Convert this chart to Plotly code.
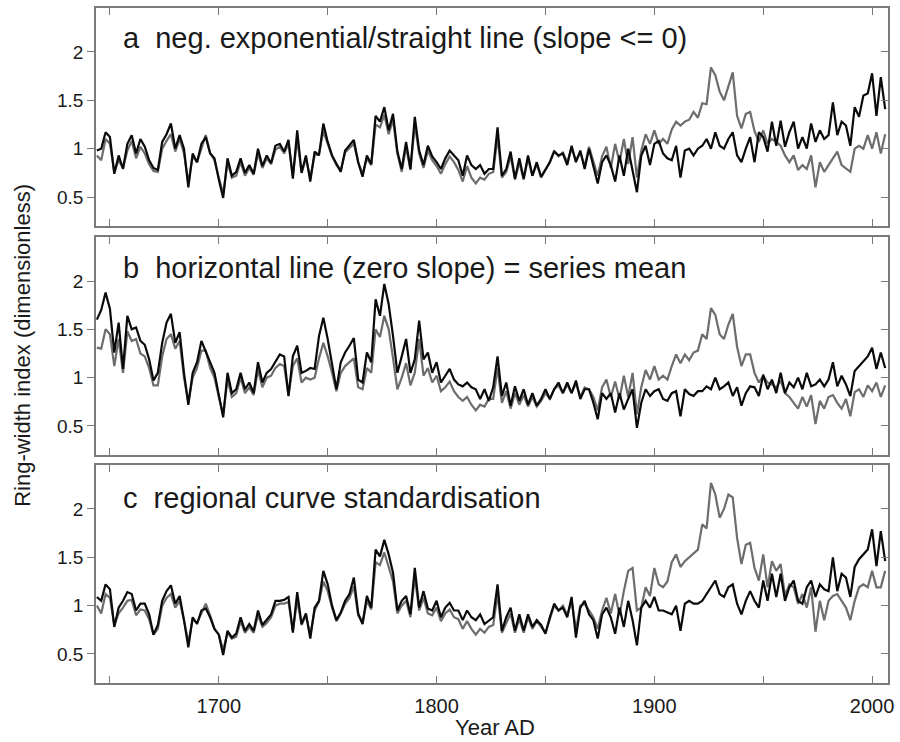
import plotly.graph_objects as go

# ---------------- data (2-year resolution) ----------------
YEARS = list(range(1644, 2007, 2))

# panel a: neg. exponential / straight line
A_BLACK = [0.98, 1.00, 1.17,
           1.12, 0.74, 0.93, 0.79, 1.05,
           1.14, 0.95, 1.10, 1.02, 0.88,
           0.80, 0.78, 1.07, 1.15, 1.26,
           1.00, 1.14, 1.00, 0.60, 0.95,
           0.86, 1.05, 1.12, 0.95, 0.90,
           0.68, 0.49, 0.90, 0.72, 0.76,
           0.90, 0.75, 0.83, 0.74, 1.00,
           0.82, 0.93, 0.85, 1.03, 1.05,
           0.97, 1.09, 0.69, 1.19, 0.75,
           0.93, 0.66, 0.97, 0.93, 1.26,
           1.07, 0.93, 0.85, 0.76, 0.98,
           1.03, 1.09, 0.86, 0.71, 0.93,
           0.84, 1.34, 1.28, 1.43, 1.19,
           1.36, 0.97, 0.79, 1.07, 0.79,
           1.33, 0.98, 0.83, 1.03, 0.92,
           0.86, 0.79, 0.90, 0.98, 0.93,
           0.88, 0.72, 0.93, 0.83, 0.79,
           0.83, 0.74, 0.79, 0.79, 1.22,
           0.72, 0.79, 0.97, 0.69, 0.90,
           0.69, 0.93, 0.72, 0.86, 0.71,
           0.78, 0.86, 0.97, 0.93, 0.95,
           0.83, 1.03, 0.86, 0.98, 0.79,
           1.00, 0.83, 0.64, 0.86, 0.93,
           0.83, 0.66, 0.93, 0.72, 1.00,
           0.78, 0.55, 0.93, 1.03, 0.83,
           1.05, 1.08, 0.95, 0.90, 0.88,
           1.03, 0.70, 0.98, 1.00, 0.93,
           1.00, 1.03, 1.10, 1.00, 1.17,
           1.03, 1.00, 1.10, 1.17, 0.93,
           0.86, 1.00, 1.12, 0.86, 1.17,
           1.12, 0.97, 1.28, 1.03, 1.29,
           1.02, 1.17, 1.28, 1.00, 1.12,
           1.00, 1.26, 1.07, 1.19, 1.10,
           1.14, 1.48, 1.14, 1.28, 1.24,
           1.03, 1.43, 1.33, 1.55, 1.57,
           1.78, 1.34, 1.74, 1.41]
A_GREY = [0.93, 0.88, 1.10,
          1.05, 0.76, 0.88, 0.80, 0.98,
          1.08, 0.90, 1.02, 0.95, 0.84,
          0.77, 0.76, 1.00, 1.08, 1.15,
          0.97, 1.10, 0.95, 0.65, 0.92,
          0.86, 1.00, 1.14, 0.96, 0.88,
          0.70, 0.53, 0.86, 0.70, 0.72,
          0.86, 0.72, 0.80, 0.73, 0.95,
          0.80, 0.90, 0.84, 0.99, 1.02,
          0.95, 1.05, 0.72, 1.10, 0.75,
          0.90, 0.70, 0.93, 0.95, 1.18,
          1.05, 0.92, 0.83, 0.78, 0.96,
          1.00, 1.05, 0.86, 0.74, 0.90,
          0.83, 1.25, 1.22, 1.35, 1.15,
          1.30, 0.95, 0.76, 1.02, 0.78,
          1.25, 0.95, 0.80, 0.98, 0.88,
          0.82, 0.74, 0.84, 0.92, 0.86,
          0.78, 0.66, 0.82, 0.70, 0.64,
          0.70, 0.68, 0.74, 0.76, 1.12,
          0.70, 0.76, 0.92, 0.68, 0.86,
          0.68, 0.90, 0.72, 0.84, 0.70,
          0.78, 0.86, 0.98, 0.92, 0.96,
          0.86, 1.00, 0.88, 0.96, 0.82,
          1.02, 0.86, 0.72, 0.92, 1.02,
          0.80, 1.05, 0.86, 1.10, 0.84,
          1.12, 0.70, 0.98, 1.15, 1.05,
          1.19, 1.05, 1.10, 1.05, 1.20,
          1.28, 1.24, 1.28, 1.30, 1.38,
          1.32, 1.47, 1.46, 1.84, 1.76,
          1.59, 1.50, 1.65, 1.79, 1.34,
          1.21, 1.36, 1.38, 1.18, 1.07,
          1.19, 1.05, 1.10, 1.07, 1.03,
          0.93, 0.86, 0.93, 0.78, 0.83,
          0.79, 0.93, 0.60, 0.86, 0.76,
          0.83, 0.90, 0.97, 0.83, 0.79,
          0.76, 1.00, 1.03, 1.00, 1.14,
          1.00, 1.17, 0.95, 1.15]

# panel b: horizontal line (series mean)
B_BLACK = [1.60, 1.70, 1.88,
           1.71, 1.26, 1.57, 1.09, 1.64,
           1.50, 1.52, 1.38, 1.34, 1.19,
           0.97, 1.05, 1.36, 1.57, 1.66,
           1.36, 1.47, 1.05, 0.72, 1.05,
           1.16, 1.38, 1.26, 1.16, 1.05,
           0.81, 0.59, 1.05, 0.84, 0.88,
           1.05, 0.88, 0.95, 0.84, 1.16,
           0.95, 1.05, 1.09, 1.16, 1.24,
           1.22, 0.81, 1.22, 1.33, 1.05,
           1.07, 1.10, 1.09, 1.43, 1.62,
           1.40, 1.12, 0.88, 1.16, 1.26,
           1.33, 1.41, 0.98, 0.95, 1.26,
           1.16, 1.81, 1.64, 1.97, 1.76,
           1.43, 1.05, 1.22, 1.40, 1.05,
           1.19, 1.59, 1.19, 1.26, 1.05,
           1.16, 0.95, 1.02, 1.09, 0.98,
           0.93, 0.91, 0.95, 0.90, 0.88,
           0.78, 0.88, 0.76, 0.90, 1.22,
           0.81, 0.95, 0.71, 0.91, 0.76,
           0.88, 0.72, 0.84, 0.71, 0.78,
           0.88, 0.78, 0.88, 0.95, 0.84,
           0.95, 0.84, 0.97, 0.78, 0.88,
           0.88, 0.74, 0.57, 0.84, 0.78,
           0.84, 0.64, 0.84, 0.67, 0.78,
           0.88, 0.48, 0.74, 0.88, 0.81,
           0.86, 0.88, 0.78, 0.76, 0.84,
           0.86, 0.60, 0.88, 0.83, 0.81,
           0.86, 0.86, 0.91, 0.88, 1.00,
           0.88, 0.91, 0.95, 0.81, 0.90,
           0.71, 0.84, 0.91, 0.90, 0.81,
           1.03, 0.88, 0.98, 0.84, 1.05,
           0.84, 0.95, 0.90, 1.00, 0.88,
           1.05, 0.91, 0.93, 0.98, 0.91,
           0.98, 1.16, 0.91, 1.02, 0.93,
           0.81, 1.07, 1.12, 1.16, 1.22,
           1.31, 1.09, 1.26, 1.10]
B_GREY = [1.31, 1.30, 1.50,
          1.45, 1.12, 1.40, 1.05, 1.48,
          1.38, 1.40, 1.25, 1.22, 1.10,
          0.92, 0.92, 1.22, 1.40, 1.45,
          1.30, 1.38, 1.00, 0.75, 1.00,
          1.10, 1.28, 1.28, 1.10, 1.00,
          0.80, 0.62, 0.98, 0.80, 0.84,
          1.00, 0.84, 0.90, 0.82, 1.08,
          0.90, 1.00, 1.02, 1.10, 1.14,
          1.12, 0.82, 1.12, 1.20, 0.95,
          1.00, 0.98, 1.00, 1.20, 1.36,
          1.22, 1.05, 0.86, 1.05, 1.12,
          1.16, 1.20, 0.90, 0.88, 1.10,
          1.05, 1.50, 1.42, 1.64, 1.50,
          1.20, 0.88, 1.00, 1.15, 0.92,
          1.05, 1.40, 1.02, 1.10, 0.95,
          1.02, 0.86, 0.90, 0.96, 0.86,
          0.80, 0.76, 0.80, 0.72, 0.66,
          0.72, 0.70, 0.78, 0.78, 1.10,
          0.74, 0.86, 0.68, 0.84, 0.72,
          0.82, 0.70, 0.80, 0.70, 0.76,
          0.84, 0.78, 0.88, 0.92, 0.84,
          0.93, 0.84, 0.94, 0.80, 0.90,
          0.88, 0.80, 0.66, 0.90, 0.98,
          0.80, 0.96, 0.78, 1.02, 0.80,
          1.05, 0.62, 0.90, 1.08, 0.98,
          1.12, 0.98, 1.02, 0.98, 1.12,
          1.24, 1.15, 1.24, 1.18, 1.26,
          1.28, 1.45, 1.40, 1.72, 1.65,
          1.45, 1.40, 1.55, 1.66, 1.32,
          1.12, 1.24, 1.24, 1.05, 0.95,
          1.02, 0.95, 0.93, 0.90, 0.97,
          0.84, 0.80, 0.74, 0.68, 0.80,
          0.70, 0.82, 0.52, 0.76, 0.68,
          0.80, 0.82, 0.74, 0.68, 0.78,
          0.60, 0.85, 0.88, 0.80, 0.92,
          0.86, 0.95, 0.80, 0.92]

# panel c: regional curve standardisation
C_BLACK = [1.09, 1.05, 1.22,
           1.17, 0.78, 0.98, 1.05, 1.14,
           1.12, 0.95, 1.02, 1.02, 0.91,
           0.70, 0.80, 1.05, 1.15, 1.21,
           1.02, 1.10, 0.85, 0.57, 0.88,
           0.81, 0.95, 0.97, 0.88, 0.76,
           0.70, 0.49, 0.74, 0.67, 0.71,
           0.88, 0.74, 0.81, 0.74, 0.95,
           0.80, 0.85, 0.91, 1.05, 1.05,
           1.06, 1.09, 0.72, 1.14, 0.81,
           0.92, 0.66, 0.98, 1.05, 1.36,
           1.22, 1.00, 0.85, 0.93, 1.05,
           1.12, 1.29, 0.92, 0.81, 1.10,
           0.98, 1.58, 1.51, 1.68, 1.53,
           1.34, 0.95, 1.05, 1.10, 0.91,
           1.39, 0.98, 1.15, 0.97, 0.95,
           1.05, 0.88, 0.98, 1.03, 0.95,
           0.95, 0.85, 0.95, 0.88, 0.85,
           0.91, 0.81, 0.85, 0.88, 1.22,
           0.74, 0.88, 0.98, 0.74, 0.91,
           0.74, 0.91, 0.78, 0.85, 0.80,
           0.71, 0.88, 1.02, 0.95, 0.98,
           0.88, 1.09, 0.67, 0.98, 1.05,
           0.91, 0.85, 0.66, 0.91, 0.98,
           0.88, 0.71, 0.98, 0.78, 1.05,
           0.85, 0.59, 0.98, 1.05, 0.98,
           1.09, 0.95, 0.95, 0.93, 0.91,
           1.00, 0.74, 1.02, 1.05, 1.02,
           1.02, 1.05, 1.12, 1.20, 1.26,
           1.12, 1.09, 1.19, 1.22, 1.02,
           0.91, 1.05, 1.15, 1.05, 0.98,
           1.26, 1.05, 1.33, 1.09, 1.33,
           1.05, 1.19, 1.26, 1.05, 1.02,
           1.19, 1.26, 1.09, 1.22, 1.17,
           1.15, 1.50, 1.15, 1.33, 1.29,
           1.09, 1.40, 1.48, 1.53, 1.58,
           1.79, 1.41, 1.77, 1.46]
C_GREY = [1.00, 0.92, 1.12,
          1.08, 0.80, 0.92, 0.98, 1.05,
          1.06, 0.90, 0.96, 0.95, 0.86,
          0.70, 0.76, 1.00, 1.08, 1.12,
          0.98, 1.05, 0.85, 0.62, 0.86,
          0.82, 0.92, 1.02, 0.90, 0.76,
          0.70, 0.54, 0.72, 0.66, 0.68,
          0.84, 0.72, 0.78, 0.72, 0.90,
          0.78, 0.82, 0.88, 1.00, 1.02,
          1.02, 1.04, 0.74, 1.06, 0.80,
          0.90, 0.70, 0.95, 1.04, 1.25,
          1.15, 0.98, 0.84, 0.92, 1.02,
          1.08, 1.20, 0.90, 0.82, 1.05,
          0.96, 1.45, 1.42, 1.55, 1.40,
          1.25, 0.92, 1.00, 1.05, 0.88,
          1.30, 0.95, 1.08, 0.92, 0.90,
          0.98, 0.84, 0.92, 0.96, 0.88,
          0.86, 0.76, 0.84, 0.76, 0.70,
          0.76, 0.72, 0.78, 0.80, 1.12,
          0.72, 0.82, 0.92, 0.72, 0.86,
          0.72, 0.88, 0.76, 0.84, 0.78,
          0.72, 0.86, 1.00, 0.95, 1.00,
          0.90, 1.05, 0.75, 1.00, 1.02,
          0.95, 0.88, 0.76, 0.95, 1.08,
          0.92, 1.12, 0.90, 1.15, 1.36,
          1.39, 0.95, 0.98, 1.19, 1.10,
          1.39, 1.22, 1.19, 1.25, 1.45,
          1.53, 1.40, 1.46, 1.50, 1.53,
          1.58, 1.84, 1.80, 2.27, 2.15,
          1.91, 2.00, 2.15, 2.12, 1.70,
          1.43, 1.63, 1.65, 1.39, 1.26,
          1.53, 1.19, 1.46, 1.36, 1.43,
          1.10, 1.22, 1.19, 1.02, 1.12,
          0.98, 1.19, 0.73, 1.05, 0.85,
          1.05, 1.10, 1.12, 1.05, 0.98,
          0.85, 1.05, 1.19, 1.22, 1.19,
          1.36, 1.19, 1.19, 1.36]

PANEL_LABELS = ["a\u00a0\u00a0neg. exponential/straight line (slope &lt;= 0)",
                "b\u00a0\u00a0horizontal line (zero slope) = series mean",
                "c\u00a0\u00a0regional curve standardisation"]
X_TICKS = [1650, 1700, 1750, 1800, 1850, 1900, 1950, 2000]
X_TICKTEXT = ["", "1700", "", "1800", "", "1900", "", "2000"]
Y_TICKS = [0.5, 1, 1.5, 2]
Y_TICKTEXT = ["0.5", "1", "1.5", "2"]

# ---------------- figure ----------------
FONT = "Liberation Sans, Arial, sans-serif"
TXT = "#1a1a1a"
AXC = "#7a7a7a"
GREY = "#6d6d6d"
BLACK = "#0a0a0a"
XR = [1643.6, 2007.3]
YR = [0.2, 2.455]

fig = go.Figure()
panels = [(A_GREY, A_BLACK), (B_GREY, B_BLACK), (C_GREY, C_BLACK)]
domains = [[0.677, 1.0], [0.3378, 0.6607], [0.0, 0.3230]]

for i, (g, b) in enumerate(panels):
    xa = "x" if i == 0 else f"x{i+1}"
    ya = "y" if i == 0 else f"y{i+1}"
    fig.add_trace(go.Scatter(x=YEARS, y=g, mode="lines", xaxis=xa, yaxis=ya,
                             line=dict(color=GREY, width=2.2), showlegend=False,
                             hoverinfo="skip"))
    fig.add_trace(go.Scatter(x=YEARS, y=b, mode="lines", xaxis=xa, yaxis=ya,
                             line=dict(color=BLACK, width=2.2), showlegend=False,
                             hoverinfo="skip"))

layout = dict(
    width=900, height=742,
    paper_bgcolor="white", plot_bgcolor="white",
    margin=dict(l=96, r=6, t=8, b=59),
    font=dict(family=FONT, color=TXT),
    showlegend=False,
)

for i in range(3):
    xk = "xaxis" if i == 0 else f"xaxis{i+1}"
    yk = "yaxis" if i == 0 else f"yaxis{i+1}"
    yname = "y" if i == 0 else f"y{i+1}"
    xname = "x" if i == 0 else f"x{i+1}"
    layout[xk] = dict(
        domain=[0, 1], anchor=yname, range=XR, showgrid=False, zeroline=False,
        showline=True, linecolor=AXC, linewidth=1.5, mirror="ticks",
        ticks="inside", ticklen=7, tickwidth=1.3, tickcolor=AXC,
        tickvals=X_TICKS, ticktext=X_TICKTEXT, ticklabelstandoff=4,
        showticklabels=(i == 2), tickfont=dict(size=20, family=FONT, color=TXT),
    )
    layout[yk] = dict(
        domain=domains[i], anchor=xname, range=YR, showgrid=False, zeroline=False,
        showline=True, linecolor=AXC, linewidth=1.5, mirror=True,
        ticks="outside", ticklen=7, tickwidth=1.3, tickcolor=AXC,
        tickvals=Y_TICKS, ticktext=Y_TICKTEXT,
        tickfont=dict(size=19, family=FONT, color=TXT),
    )
    # right-hand inside ticks
    layout[f"yaxis{i+4}"] = dict(
        domain=domains[i], anchor=xname, overlaying=yname, side="right",
        range=YR, showgrid=False, zeroline=False, showline=False,
        ticks="inside", ticklen=7, tickwidth=1.3, tickcolor=AXC,
        tickvals=Y_TICKS, showticklabels=False,
    )

fig.update_layout(**layout)

# invisible traces to activate the right-hand overlay axes
for i in range(3):
    xa = "x" if i == 0 else f"x{i+1}"
    fig.add_trace(go.Scatter(x=[XR[0]], y=[YR[0]], xaxis=xa, yaxis=f"y{i+4}",
                             mode="markers", marker=dict(opacity=0),
                             showlegend=False, hoverinfo="skip"))

label_y = [0.9556, 0.6148, 0.2741]
for i in range(3):
    fig.add_annotation(text=PANEL_LABELS[i], xref="paper", yref="paper",
                       x=0.0313, y=label_y[i], xanchor="left", yanchor="middle",
                       showarrow=False, font=dict(size=29, family=FONT, color=TXT))

fig.add_annotation(text="Ring-width index (dimensionless)", xref="paper", yref="paper",
                   x=-0.093, y=0.50, xanchor="center", yanchor="middle",
                   textangle=-90, showarrow=False,
                   font=dict(size=22, family=FONT, color=TXT))
fig.add_annotation(text="Year AD", xref="paper", yref="paper",
                   x=0.504, y=-0.0874, xanchor="center", yanchor="bottom",
                   showarrow=False, font=dict(size=22, family=FONT, color=TXT))

fig.write_html("out.html", config={"displayModeBar": False},
               post_script="document.body.style.margin='0';document.body.style.overflow='hidden';")
